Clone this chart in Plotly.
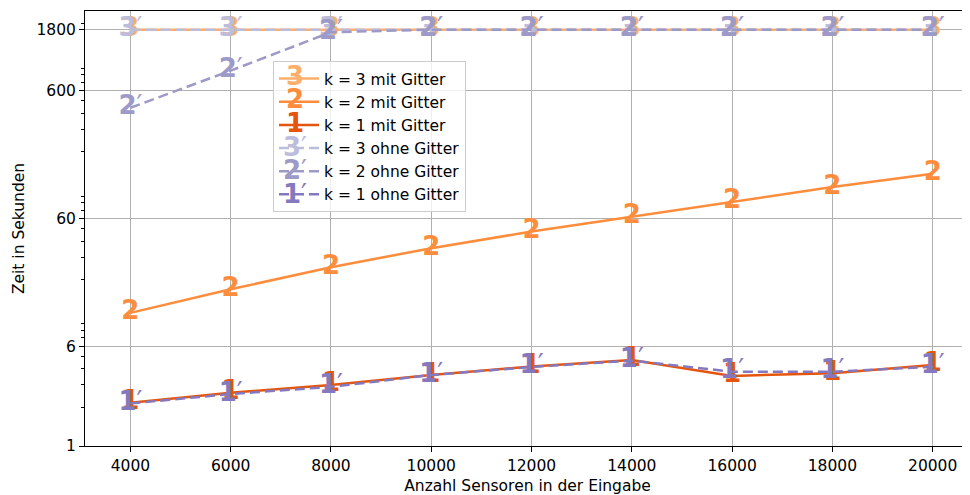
import plotly.graph_objects as go

sensors = [4000, 6000, 8000, 10000, 12000, 14000, 16000, 18000, 20000]

k3_mit = [1800, 1800, 1800, 1800, 1800, 1800, 1800, 1800, 1800]
k2_mit = [10.98, 16.8, 25.0, 35.2, 47.5, 62.3, 81.6, 105.7, 134.4]
k1_mit = [2.18, 2.61, 3.00, 3.59, 4.19, 4.71, 3.53, 3.71, 4.30]
k3_ohne = [1800, 1800, 1800, 1800, 1800, 1800, 1800, 1800, 1800]
k2_ohne = [441, 860, 1720, 1800, 1800, 1800, 1800, 1800, 1800]
k1_ohne = [2.15, 2.55, 2.90, 3.59, 4.15, 4.65, 3.81, 3.81, 4.17]

series = [
    ("k = 3 mit Gitter", k3_mit, "#fdae6b", "solid", "<b>3</b>"),
    ("k = 2 mit Gitter", k2_mit, "#fd8d3c", "solid", "<b>2</b>"),
    ("k = 1 mit Gitter", k1_mit, "#e6550d", "solid", "<b>1</b>"),
    ("k = 3 ohne Gitter", k3_ohne, "#bcbddc", "dash", "<b>3</b>′"),
    ("k = 2 ohne Gitter", k2_ohne, "#9e9ac8", "dash", "<b>2</b>′"),
    ("k = 1 ohne Gitter", k1_ohne, "#8479bf", "dash", "<b>1</b>′"),
]

ytickvals = [1, 6, 60, 600, 1800]
yticktext = ["1", "6", "60", "600", "1800"]
xtickvals = [4000, 6000, 8000, 10000, 12000, 14000, 16000, 18000, 20000]
xticktext = [str(v) for v in xtickvals]
minor_vals = [m * d for d in (1, 10, 100, 1000) for m in range(2, 10) if m * d < 2600]

FONT = "DejaVu Sans"
# page body has an 8px margin: figure is laid out in its own coordinates
OFF = 8
W, H = 970 - OFF, 495 - OFF
L, T, B = 85 - OFF, 11 - OFF, 495 - 446

def px_x(sx):
    return (sx - OFF - L) / (W - L)

def px_y(sy):
    return (H - B - (sy - OFF)) / (H - B - T)

fig = go.Figure()
for i, (name, vals, color, dash, glyph) in enumerate(series):
    fig.add_trace(go.Scatter(
        x=sensors, y=vals, mode="lines", name=name, legendgroup=f"g{i}",
        line=dict(color=color, width=2.5, dash="10px,5px" if dash == "dash" else "solid"),
    ))
    fig.add_trace(go.Scatter(
        x=sensors, y=vals, mode="text", text=[glyph] * len(sensors),
        textposition="middle center", showlegend=False, legendgroup=f"g{i}",
        textfont=dict(family=FONT, size=26, color=color),
        hoverinfo="skip",
    ))

# glyphs for legend symbols
leg_y_px = [76, 99.5, 123, 146.5, 170, 193.5]
for (name, vals, color, dash, glyph), ypx in zip(series, leg_y_px):
    fig.add_annotation(
        x=px_x(295), y=px_y(ypx), xref="paper", yref="paper",
        text=glyph, showarrow=False, xanchor="center", yanchor="middle",
        font=dict(family=FONT, size=26, color=color),
    )

fig.update_layout(
    width=W, height=H,
    margin=dict(l=L, r=0, t=T, b=B),
    plot_bgcolor="white", paper_bgcolor="white",
    font=dict(family=FONT, size=15.5, color="black"),
    showlegend=True,
    legend=dict(
        x=px_x(273), y=px_y(61), xanchor="left", yanchor="top",
        bgcolor="rgba(255,255,255,0.8)", bordercolor="#cccccc", borderwidth=1,
        font=dict(family=FONT, size=15.5, color="black"),
        tracegroupgap=0, itemwidth=40,
    ),
    xaxis=dict(
        range=[3095, 20744], tickmode="array", tickvals=xtickvals, ticktext=xticktext,
        ticks="outside", ticklen=5, tickcolor="black", tickwidth=1,
        showline=True, linecolor="black", linewidth=1, mirror=True,
        showgrid=True, gridcolor="#b0b0b0", gridwidth=1, zeroline=False,
        title=dict(text="Anzahl Sensoren in der Eingabe", font=dict(size=15.5), standoff=6),
    ),
    yaxis=dict(
        type="log", range=[0, 3.401], tickmode="array", tickvals=ytickvals, ticktext=yticktext,
        ticks="outside", ticklen=5, tickcolor="black", tickwidth=1,
        showline=True, linecolor="black", linewidth=1, mirror=False,
        showgrid=True, gridcolor="#b0b0b0", gridwidth=1, zeroline=False,
        minor=dict(tickmode="array", tickvals=minor_vals, ticks="outside", ticklen=3,
                   tickcolor="black", showgrid=False),
        title=dict(text="Zeit in Sekunden", font=dict(size=15.5), standoff=8),
    ),
)

fig.write_html("out.html")
